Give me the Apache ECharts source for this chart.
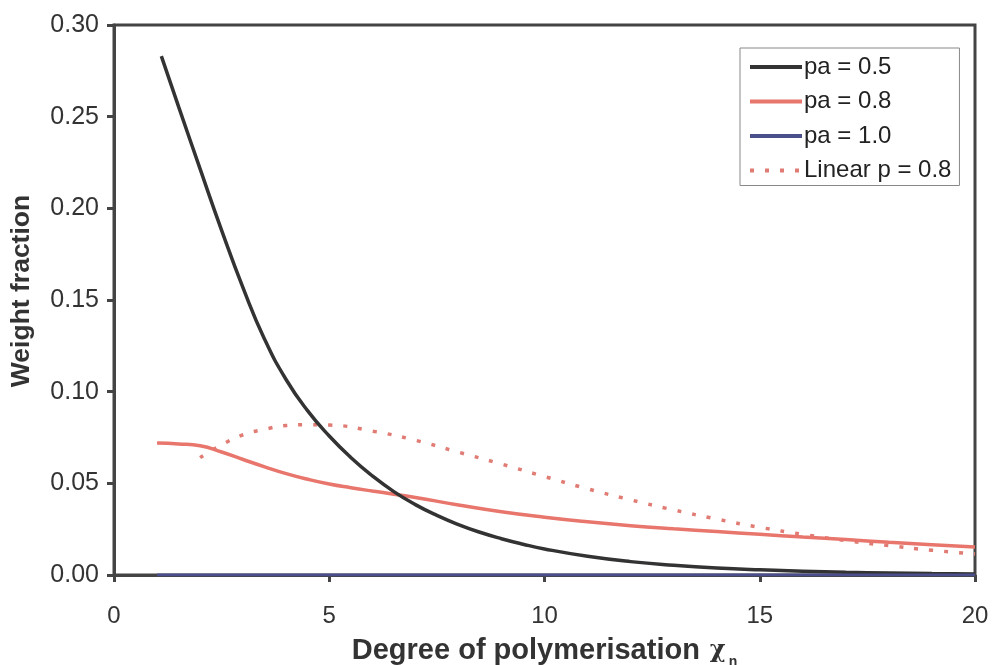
<!DOCTYPE html>
<html><head><meta charset="utf-8">
<script src="https://cdn.jsdelivr.net/npm/echarts@6/dist/echarts.min.js"></script>
<style>html,body{margin:0;padding:0;background:#fff}#c{width:993px;height:665px}</style>
</head><body><div id="c"></div>
<script>
const xTicks = [0, 5, 10, 15, 20];
const yTicks = ['0.00','0.05','0.10','0.15','0.20','0.25','0.30'];
const seriesNames = ['pa = 0.5', 'pa = 0.8', 'pa = 1.0', 'Linear p = 0.8'];

const x05 = [1.1,1.5,2,2.5,3,3.5,4,4.5,5,5.5,6,6.5,7,7.5,8,8.5,9,9.5,10,11,12,13,14,15,16,17,18,19,20];
const y05 = [0.283,0.2555,0.2215,0.188,0.1565,0.1285,0.1065,0.0895,0.0758,0.0641,0.0541,0.0455,0.0384,0.0325,0.0275,0.0233,0.0198,0.0168,0.0142,0.0102,0.0073,0.0053,0.0038,0.0028,0.0021,0.0015,0.0011,0.0008,0.0006];

const x08 = [1,1.5,2,2.5,3,3.5,4,4.5,5,5.5,6,6.5,7,8,9,10,11,12,13,14,15,16,17,18,19,20];
const y08 = [0.072,0.0715,0.0705,0.0671,0.063,0.059,0.0553,0.0522,0.0496,0.0476,0.0458,0.0441,0.0423,0.0382,0.0345,0.0315,0.029,0.0269,0.0252,0.0237,0.0222,0.0207,0.0193,0.0178,0.0165,0.0153];

const x10 = [1, 20];
const y10 = [0, 0];

const xLin = [2,2.5,3,3.5,4,4.5,5,6,7,8,9,10,11,12,13,14,15,16,17,18,19,20];
const yLin = [0.064,0.071,0.0765,0.0795,0.0815,0.082,0.0818,0.0785,0.0735,0.067,0.0605,0.0537,0.047,0.041,0.0355,0.0305,0.026,0.0222,0.0188,0.016,0.0135,0.0115];

const pairs = (xs, ys) => xs.map((x, i) => [x, ys[i]]);

const font = 'Liberation Sans, Arial, sans-serif';
const axisCol = '#444';
const textCol = '#333';

const chart = echarts.init(document.getElementById('c'), null, {renderer: 'canvas'});
chart.setOption({
  animation: false,
  backgroundColor: '#fff',
  textStyle: {fontFamily: font},
  grid: {left: 114, right: 18, top: 25, bottom: 90, outerBoundsMode: 'none', containLabel: false,
         show: true, borderColor: axisCol, borderWidth: 3},
  legend: {
    orient: 'vertical', left: 740, top: 48,
    padding: [7, 8, 3, 8],
    borderColor: '#888', borderWidth: 1,
    itemWidth: 52, itemHeight: 14, itemGap: 10.5,
    itemStyle: {opacity: 0},
    lineStyle: {width: 4},
    textStyle: {fontSize: 24, color: '#222', fontFamily: font, padding: [0,0,0,-3]},
    data: seriesNames
  },
  xAxis: {
    type: 'value', min: 0, max: 20, interval: 5,
    axisLine: {show: true, lineStyle: {color: axisCol, width: 3}},
    axisTick: {show: true, length: 7, lineStyle: {color: axisCol, width: 3}},
    axisLabel: {fontSize: 24, color: textCol, margin: 29, fontFamily: font,
      formatter: v => xTicks.includes(v) ? String(v) : ''},
    splitLine: {show: false},
    name: 'Degree of polymerisation{g|χ}{s|n}',
    nameLocation: 'middle', nameGap: 50,
    nameTextStyle: {fontSize: 29, lineHeight: 36, fontWeight: 'bold', color: textCol, fontFamily: font,
      rich: {g: {fontSize: 24, lineHeight: 36, fontFamily: 'DejaVu Serif, serif', color: textCol, padding: [0,0,0,10]},
             s: {fontSize: 14, lineHeight: 36, fontWeight: 'bold', color: textCol, fontFamily: font, padding: [22,0,0,3]}}}
  },
  yAxis: {
    type: 'value', min: 0, max: 0.30, interval: 0.05,
    axisLine: {show: true, lineStyle: {color: axisCol, width: 3}},
    axisTick: {show: true, length: 7, lineStyle: {color: axisCol, width: 3}},
    axisLabel: {fontSize: 25, color: textCol, margin: 15, fontFamily: font,
      formatter: v => yTicks[Math.round(v / 0.05)]},
    splitLine: {show: false},
    name: 'Weight fraction', nameLocation: 'middle', nameGap: 79,
    nameTextStyle: {fontSize: 26.5, fontWeight: 'bold', color: textCol, fontFamily: font, padding: [0,0,0,18]}
  },
  series: [
    {name: seriesNames[0], type: 'line', data: pairs(x05, y05), smooth: true, symbol: 'none', showSymbol: false,
     lineStyle: {color: '#333', width: 3.5}, itemStyle: {color: '#333'}, z: 5},
    {name: seriesNames[1], type: 'line', data: pairs(x08, y08), smooth: true, symbol: 'none', showSymbol: false,
     lineStyle: {color: '#e8766c', width: 3.5}, itemStyle: {color: '#e8766c'}, z: 4},
    {name: seriesNames[2], type: 'line', data: pairs(x10, y10), symbol: 'none', showSymbol: false,
     lineStyle: {color: '#4a4f8c', width: 3}, itemStyle: {color: '#4a4f8c'}, z: 6},
    {name: seriesNames[3], type: 'line', data: pairs(xLin, yLin), smooth: true, symbol: 'none', showSymbol: false,
     lineStyle: {color: '#e07c74', width: 3.5, type: [4, 11]}, itemStyle: {color: '#e07c74'}, z: 3}
  ]
});
</script></body></html>
